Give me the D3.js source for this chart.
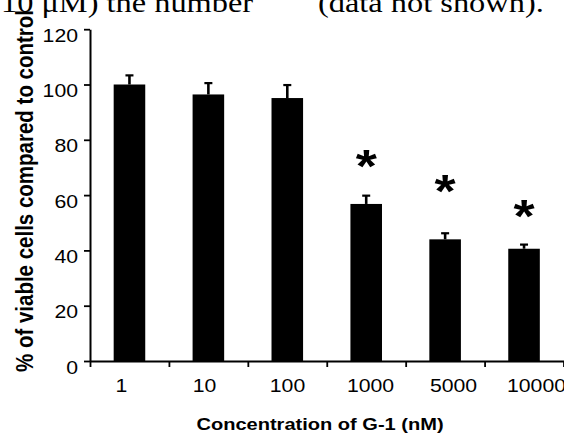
<!DOCTYPE html>
<html>
<head>
<meta charset="utf-8">
<script src="https://cdn.jsdelivr.net/npm/d3@7"></script>
<style>
  html, body { margin: 0; padding: 0; background: #fff; }
  svg { display: block; }
</style>
</head>
<body>
<svg id="chart" width="564" height="436"></svg>
<script>
// ---- data ----
const categories = ["1", "10", "100", "1000", "5000", "10000"];
const viability = [100, 96.4, 95.1, 56.8, 44.0, 40.6];
const sem = [3.3, 4.1, 4.7, 3.0, 2.2, 1.5];
const starLevel = [null, null, null, 74, 65, 56]; // value at which "*" is drawn
const yTicks = [0, 20, 40, 60, 80, 100, 120];
const xTitle = "Concentration of G-1 (nM)";
const yTitle = "% of viable cells compared to control";
const bodyTextLeft = "10 \u03bcM) the number";
const bodyTextRight = "(data not shown).";

const svg = d3.select("#chart");
svg.append("rect").attr("width", 564).attr("height", 436).attr("fill", "#fff");

const sans = "'Liberation Sans', Arial, Helvetica, sans-serif";
const serif = "'Liberation Serif', 'Times New Roman', Times, serif";
const stretch = 1.18;

// body text fragment above the figure
svg.append("text").attr("transform", "translate(1,11.5) scale(1.2,1)")
  .attr("font-family", serif).attr("font-size", 27).attr("fill", "#000")
  .text(bodyTextLeft);
svg.append("text").attr("transform", "translate(318,11.5) scale(1.2,1)")
  .attr("font-family", serif).attr("font-size", 27).attr("fill", "#000")
  .text(bodyTextRight);

// ---- scales ----
const x = d3.scaleBand().domain(categories).range([90, 563.5])
  .paddingInner(0.6).paddingOuter(0.3);
const xEdges = d3.scaleLinear().domain([0, categories.length]).range([90, 563.5]);
const xLab = d3.scalePoint().domain(categories).range([121, 536]);
const y = d3.scaleLinear().domain([0, 120]).range([361, 29.2]);

// ---- bars ----
svg.append("g").selectAll("rect").data(categories).join("rect")
  .attr("x", d => x(d))
  .attr("width", x.bandwidth())
  .attr("y", (d, i) => y(viability[i]))
  .attr("height", (d, i) => y(0) - y(viability[i]))
  .attr("fill", "#000");

// ---- error bars ----
const eb = svg.append("g").attr("stroke", "#000");
eb.selectAll("line.stem").data(categories).join("line").attr("class", "stem")
  .attr("x1", d => x(d) + x.bandwidth() / 2)
  .attr("x2", d => x(d) + x.bandwidth() / 2)
  .attr("y1", (d, i) => y(viability[i]))
  .attr("y2", (d, i) => y(viability[i] + sem[i]))
  .attr("stroke-width", 2.6);
eb.selectAll("line.cap").data(categories).join("line").attr("class", "cap")
  .attr("x1", d => x(d) + x.bandwidth() / 2 - 4)
  .attr("x2", d => x(d) + x.bandwidth() / 2 + 4)
  .attr("y1", (d, i) => y(viability[i] + sem[i]))
  .attr("y2", (d, i) => y(viability[i] + sem[i]))
  .attr("stroke-width", 2.2);

// ---- significance stars ----
const starSize = 46;
svg.append("g").selectAll("text").data(categories.filter((d, i) => starLevel[i] != null)).join("text")
  .attr("transform", d => {
    const i = categories.indexOf(d);
    return `translate(${x(d) + x.bandwidth() / 2},${y(starLevel[i]) + 0.555 * starSize}) scale(${stretch},1)`;
  })
  .attr("text-anchor", "middle")
  .attr("font-family", sans).attr("font-weight", "bold")
  .attr("font-size", starSize).attr("fill", "#000")
  .text("*");

// ---- y axis ----
const gy = svg.append("g").attr("transform", "translate(90,0)")
  .call(d3.axisLeft(y).tickValues(yTicks).tickSize(6).tickSizeOuter(0).tickFormat(d3.format("d")));
gy.select(".domain").attr("stroke", "#000").attr("stroke-width", 2);
gy.selectAll(".tick line").attr("stroke", "#000").attr("stroke-width", 1.8);
gy.selectAll(".tick text")
  .attr("font-family", sans).attr("font-size", 18).attr("fill", "#000")
  .attr("x", -12 / stretch).attr("y", 12).attr("dy", null)
  .attr("transform", `scale(${stretch},1)`);

// ---- x axis: line + ticks at category boundaries ----
const gx = svg.append("g").attr("transform", "translate(0,361)")
  .call(d3.axisBottom(xEdges).tickValues(d3.range(categories.length + 1)).tickSize(6).tickSizeOuter(0).tickFormat(""));
gx.select(".domain").attr("stroke", "#000").attr("stroke-width", 2);
gx.selectAll(".tick line").attr("stroke", "#000").attr("stroke-width", 1.8);
gx.selectAll(".tick text").remove();

// ---- x tick labels ----
const gxl = svg.append("g").attr("transform", "translate(0,361)")
  .call(d3.axisBottom(xLab).tickSize(0));
gxl.select(".domain").remove();
gxl.selectAll(".tick text")
  .attr("font-family", sans).attr("font-size", 18).attr("fill", "#000")
  .attr("y", 31).attr("dy", null)
  .attr("transform", `scale(${stretch},1)`);

// ---- axis titles ----
svg.append("text").attr("transform", `translate(320,430) scale(${stretch},1)`)
  .attr("text-anchor", "middle")
  .attr("font-family", sans).attr("font-weight", "bold").attr("font-size", 17).attr("fill", "#000")
  .text(xTitle);
svg.append("text").attr("transform", "translate(32.5,191) rotate(-90) scale(1,1.17)")
  .attr("text-anchor", "middle")
  .attr("font-family", sans).attr("font-weight", "bold").attr("font-size", 20.5).attr("fill", "#000")
  .text(yTitle);
</script>
</body>
</html>
